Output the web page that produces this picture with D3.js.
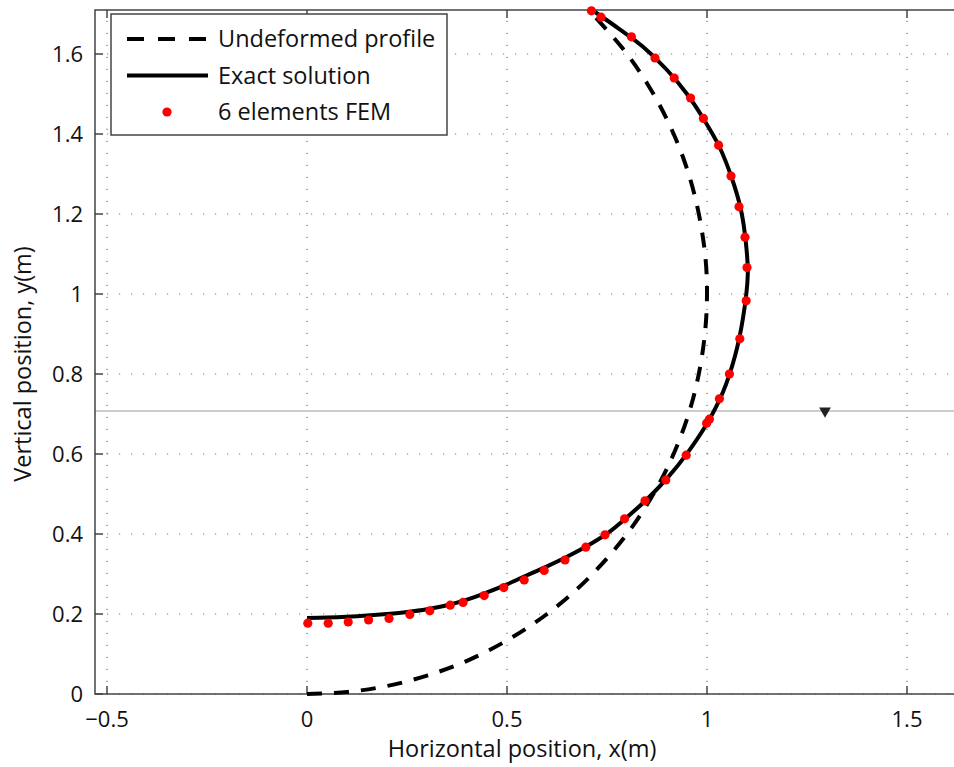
<!DOCTYPE html>
<html>
<head>
<meta charset="utf-8">
<script src="https://cdn.jsdelivr.net/npm/d3@7"></script>
<style>
  body { margin: 0; background: #fff; }
  svg { display: block; font-family: "Open Sans", sans-serif; }
  .tick-label { font-size: 22px; fill: #111; }
  .axis-label { font-size: 23.5px; fill: #111; }
  .legend-text { font-size: 23.5px; fill: #111; }
</style>
</head>
<body>
<svg id="chart" width="954" height="767"></svg>
<script>
// values
const xTicks = [-0.5, 0, 0.5, 1, 1.5]
const xTickLabels = ['\u22120.5', '0', '0.5', '1', '1.5']
const yTicks = [0, 0.2, 0.4, 0.6, 0.8, 1, 1.2, 1.4, 1.6]
const yTickLabels = ['0', '0.2', '0.4', '0.6', '0.8', '1', '1.2', '1.4', '1.6']

const undeformed = [
  [0, 0], [0.1, 0.005], [0.2, 0.02], [0.3, 0.046], [0.4, 0.083], [0.5, 0.134],
  [0.6, 0.2], [0.7, 0.286], [0.8, 0.4], [0.87, 0.507], [0.92, 0.608], [0.96, 0.72],
  [0.985, 0.83], [0.998, 0.94], [0.999, 1.05], [0.99, 1.14], [0.97, 1.243],
  [0.94, 1.342], [0.9, 1.436], [0.85, 1.527], [0.79, 1.613], [0.707, 1.707]
]

const exact = [
  [0.00, 0.190], [0.05, 0.191], [0.10, 0.193], [0.15, 0.196], [0.20, 0.200],
  [0.25, 0.205], [0.30, 0.212], [0.35, 0.222], [0.40, 0.236], [0.45, 0.254],
  [0.50, 0.274], [0.55, 0.297], [0.60, 0.319], [0.65, 0.343], [0.70, 0.370],
  [0.75, 0.401], [0.80, 0.442], [0.85, 0.487], [0.90, 0.539], [0.95, 0.601],
  [1.00, 0.676], [1.04, 0.755], [1.07, 0.845], [1.09, 0.940], [1.102, 1.05],
  [1.097, 1.13], [1.085, 1.21], [1.062, 1.29], [1.03, 1.37], [0.99, 1.44],
  [0.95, 1.50], [0.90, 1.56], [0.84, 1.618], [0.78, 1.663], [0.72, 1.705]
]

const fem = [
  [0.002, 0.177], [0.053, 0.177], [0.103, 0.180], [0.154, 0.185], [0.205, 0.189],
  [0.257, 0.199], [0.307, 0.208], [0.358, 0.222], [0.390, 0.229], [0.443, 0.246],
  [0.492, 0.266], [0.543, 0.285], [0.593, 0.309], [0.645, 0.335], [0.697, 0.367],
  [0.745, 0.398], [0.794, 0.438], [0.845, 0.483], [0.897, 0.535], [0.948, 0.597],
  [0.999, 0.677], [1.006, 0.687], [1.031, 0.738], [1.056, 0.800], [1.082, 0.888],
  [1.098, 0.983], [1.100, 1.066], [1.095, 1.142], [1.080, 1.218], [1.060, 1.295],
  [1.029, 1.372], [0.991, 1.439], [0.959, 1.490], [0.918, 1.540], [0.870, 1.590],
  [0.811, 1.643], [0.735, 1.692], [0.711, 1.708]
]

const waterLevel = 0.7075
const marker = [1.295, 0.7075]

const legendItems = [
  { label: 'Undeformed profile', type: 'dash' },
  { label: 'Exact solution', type: 'line' },
  { label: '6 elements FEM', type: 'dot' }
]

const svg = d3.select('#chart')

const x = d3.scaleLinear().domain([-0.53, 1.65]).range([95, 967])
const y = d3.scaleLinear().domain([0, 1.71]).range([694, 10])

const plotLeft = x.range()[0], plotRight = x.range()[1]
const plotTop = y.range()[1], plotBottom = y.range()[0]

// grid
const grid = svg.append('g')
  .attr('stroke', '#777')
  .attr('stroke-width', 1.2)
  .attr('stroke-dasharray', '1.2,10.8')
grid.selectAll('.vg').data(xTicks).enter().append('line')
  .attr('x1', d => x(d)).attr('x2', d => x(d))
  .attr('y1', plotBottom).attr('y2', plotTop)
grid.selectAll('.hg').data(yTicks).enter().append('line')
  .attr('x1', plotLeft).attr('x2', plotRight)
  .attr('y1', d => y(d)).attr('y2', d => y(d))

// gray horizontal line
svg.append('line')
  .attr('x1', plotLeft).attr('x2', plotRight)
  .attr('y1', y(waterLevel)).attr('y2', y(waterLevel))
  .attr('stroke', '#bbb').attr('stroke-width', 1.5)

// frame
svg.append('rect')
  .attr('x', plotLeft).attr('y', plotTop)
  .attr('width', plotRight - plotLeft).attr('height', plotBottom - plotTop)
  .attr('fill', 'none').attr('stroke', '#444').attr('stroke-width', 1.5)

// ticks (inward)
const tickLen = 8
const ticks = svg.append('g').attr('stroke', '#444').attr('stroke-width', 1.5)
xTicks.forEach(t => {
  ticks.append('line').attr('x1', x(t)).attr('x2', x(t)).attr('y1', plotBottom).attr('y2', plotBottom - tickLen)
  ticks.append('line').attr('x1', x(t)).attr('x2', x(t)).attr('y1', plotTop).attr('y2', plotTop + tickLen)
})
yTicks.forEach(t => {
  ticks.append('line').attr('x1', plotLeft).attr('x2', plotLeft + tickLen).attr('y1', y(t)).attr('y2', y(t))
})

svg.selectAll('.xtl').data(xTicks).enter().append('text')
  .attr('class', 'tick-label')
  .attr('x', d => x(d)).attr('y', plotBottom + 33)
  .attr('text-anchor', 'middle')
  .text((d, i) => xTickLabels[i])

svg.selectAll('.ytl').data(yTicks).enter().append('text')
  .attr('class', 'tick-label')
  .attr('x', plotLeft - 12).attr('y', d => y(d) + 8)
  .attr('text-anchor', 'end')
  .text((d, i) => yTickLabels[i])

svg.append('text')
  .attr('class', 'axis-label')
  .attr('x', 522).attr('y', 757)
  .attr('text-anchor', 'middle')
  .text('Horizontal position, x(m)')

svg.append('text')
  .attr('class', 'axis-label')
  .attr('transform', 'translate(31,364) rotate(-90)')
  .attr('text-anchor', 'middle')
  .text('Vertical position, y(m)')

// curves
const line = d3.line()
  .curve(d3.curveCatmullRom)
  .x(d => x(d[0]))
  .y(d => y(d[1]))

svg.append('path')
  .attr('d', line(undeformed))
  .attr('fill', 'none').attr('stroke', '#000').attr('stroke-width', 4)
  .attr('stroke-dasharray', '15,12')

svg.append('path')
  .attr('d', line(exact))
  .attr('fill', 'none').attr('stroke', '#000').attr('stroke-width', 4)

svg.selectAll('.fem').data(fem).enter().append('circle')
  .attr('cx', d => x(d[0])).attr('cy', d => y(d[1]))
  .attr('r', 4.6).attr('fill', '#ff0000')

// marker triangle
const tri = d3.symbol().type(d3.symbolTriangle).size(60)
svg.append('path')
  .attr('d', tri())
  .attr('transform', `translate(${x(marker[0])},${y(marker[1])}) rotate(180)`)
  .attr('fill', '#222')

// legend
const lg = svg.append('g')
lg.append('rect')
  .attr('x', 111).attr('y', 14).attr('width', 336).attr('height', 121)
  .attr('fill', '#fff').attr('stroke', '#444').attr('stroke-width', 1.5)
legendItems.forEach((item, i) => {
  const cy = 39 + i * 36.5
  if (item.type === 'dot') {
    lg.append('circle').attr('cx', 167).attr('cy', cy).attr('r', 4.6).attr('fill', '#ff0000')
  } else {
    lg.append('line')
      .attr('x1', 127).attr('x2', 208).attr('y1', cy).attr('y2', cy)
      .attr('stroke', '#000').attr('stroke-width', 4)
      .attr('stroke-dasharray', item.type === 'dash' ? '17,14' : null)
  }
  lg.append('text')
    .attr('class', 'legend-text')
    .attr('x', 218).attr('y', cy + 8)
    .text(item.label)
})
</script>
</body>
</html>
